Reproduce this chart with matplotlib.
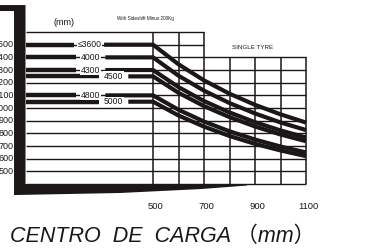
import matplotlib
matplotlib.use('Agg')
import matplotlib.pyplot as plt
from matplotlib.patches import Polygon

# load centre (mm) and rated capacity (kg)
centers = [500, 600, 700, 800, 900, 1000, 1100]
cap_ticks = [1500, 1400, 1300, 1200, 1100, 1000, 900, 800, 700, 600, 500]
x_ticks = [500, 700, 900, 1100]

mast_labels = ['≤3600', '4000', '4300', '4500', '4800', '5000']
label_x = [250, 255, 255, 345, 255, 345]
cap_3600 = [1500, 1345, 1218, 1113, 1025, 950, 885]
cap_4000 = [1400, 1255, 1137, 1039, 957, 886, 826]
cap_4300 = [1300, 1165, 1055, 965, 888, 823, 767]
cap_4500 = [1250, 1120, 1015, 928, 854, 791, 738]
cap_4800 = [1100, 986, 893, 816, 751, 696, 649]
cap_5000 = [1050, 941, 853, 779, 717, 665, 620]
curves = [cap_3600, cap_4000, cap_4300, cap_4500, cap_4800, cap_5000]

ink = '#1c1717'
narrow = ['Liberation Sans Narrow', 'Liberation Sans', 'DejaVu Sans']

fig = plt.figure(figsize=(3.65, 2.5), dpi=100)
ax = fig.add_axes([0, 0, 1, 1])
ax.set_xlim(-100, 1331)
ax.set_ylim(-121, 1853)
ax.axis('off')

# grid
levels = list(range(400, 1700, 100))
for lv in levels:
    ax.hlines(lv, 0, 700 if lv > 1400 else 1100, color=ink, lw=1.0)
for c in centers:
    ax.vlines(c, 400, 1600 if c <= 700 else 1400, color=ink, lw=1.1)

# mast and fork
mast = Polygon([(-110, 1813), (0, 1813), (0, 400), (868, 400), (868, 388),
                (686, 360), (370, 329), (-45, 313), (-45, 1766), (-110, 1766)],
               closed=True, color=ink, lw=0)
ax.add_patch(mast)

# capacity curves
for name, lx, vals in zip(mast_labels, label_x, curves):
    q = vals[0]
    ax.plot([0, lx - 58], [q, q], color=ink, lw=3.2, solid_capstyle='butt')
    ax.plot([lx + 58] + centers, [q] + vals, color=ink, lw=3.0,
            solid_capstyle='butt', solid_joinstyle='miter')
    ax.text(lx, q, name, ha='center', va='center', fontsize=6.2,
            family=narrow, color=ink,
            bbox=dict(fc='white', ec='none', pad=0.4), zorder=5)

for v in cap_ticks:
    ax.text(-48, v, str(v), ha='right', va='center', fontsize=6.5,
            family=narrow, color=ink)
for v in x_ticks:
    ax.text(v + 10, 220, str(v), ha='center', va='center', fontsize=6.8,
            family=narrow, color=ink)

ax.text(150, 1675, '(mm)', ha='center', va='center', fontsize=6.5,
        family=narrow, color=ink)
ax.text(470, 1705, 'With Sideshift Minus 200Kg', ha='center', va='center',
        fontsize=3.3, family=narrow, color=ink)
ax.text(890, 1475, 'SINGLE TYRE', ha='center', va='center', fontsize=4.5,
        family=narrow, color=ink)
ax.text(-60, -10, 'CENTRO  DE  CARGA （mm）', ha='left', va='center',
        fontsize=15.5, style='italic', family=['Liberation Sans', 'Noto Sans CJK SC'],
        color=ink)

fig.savefig('out.png', dpi=100)
